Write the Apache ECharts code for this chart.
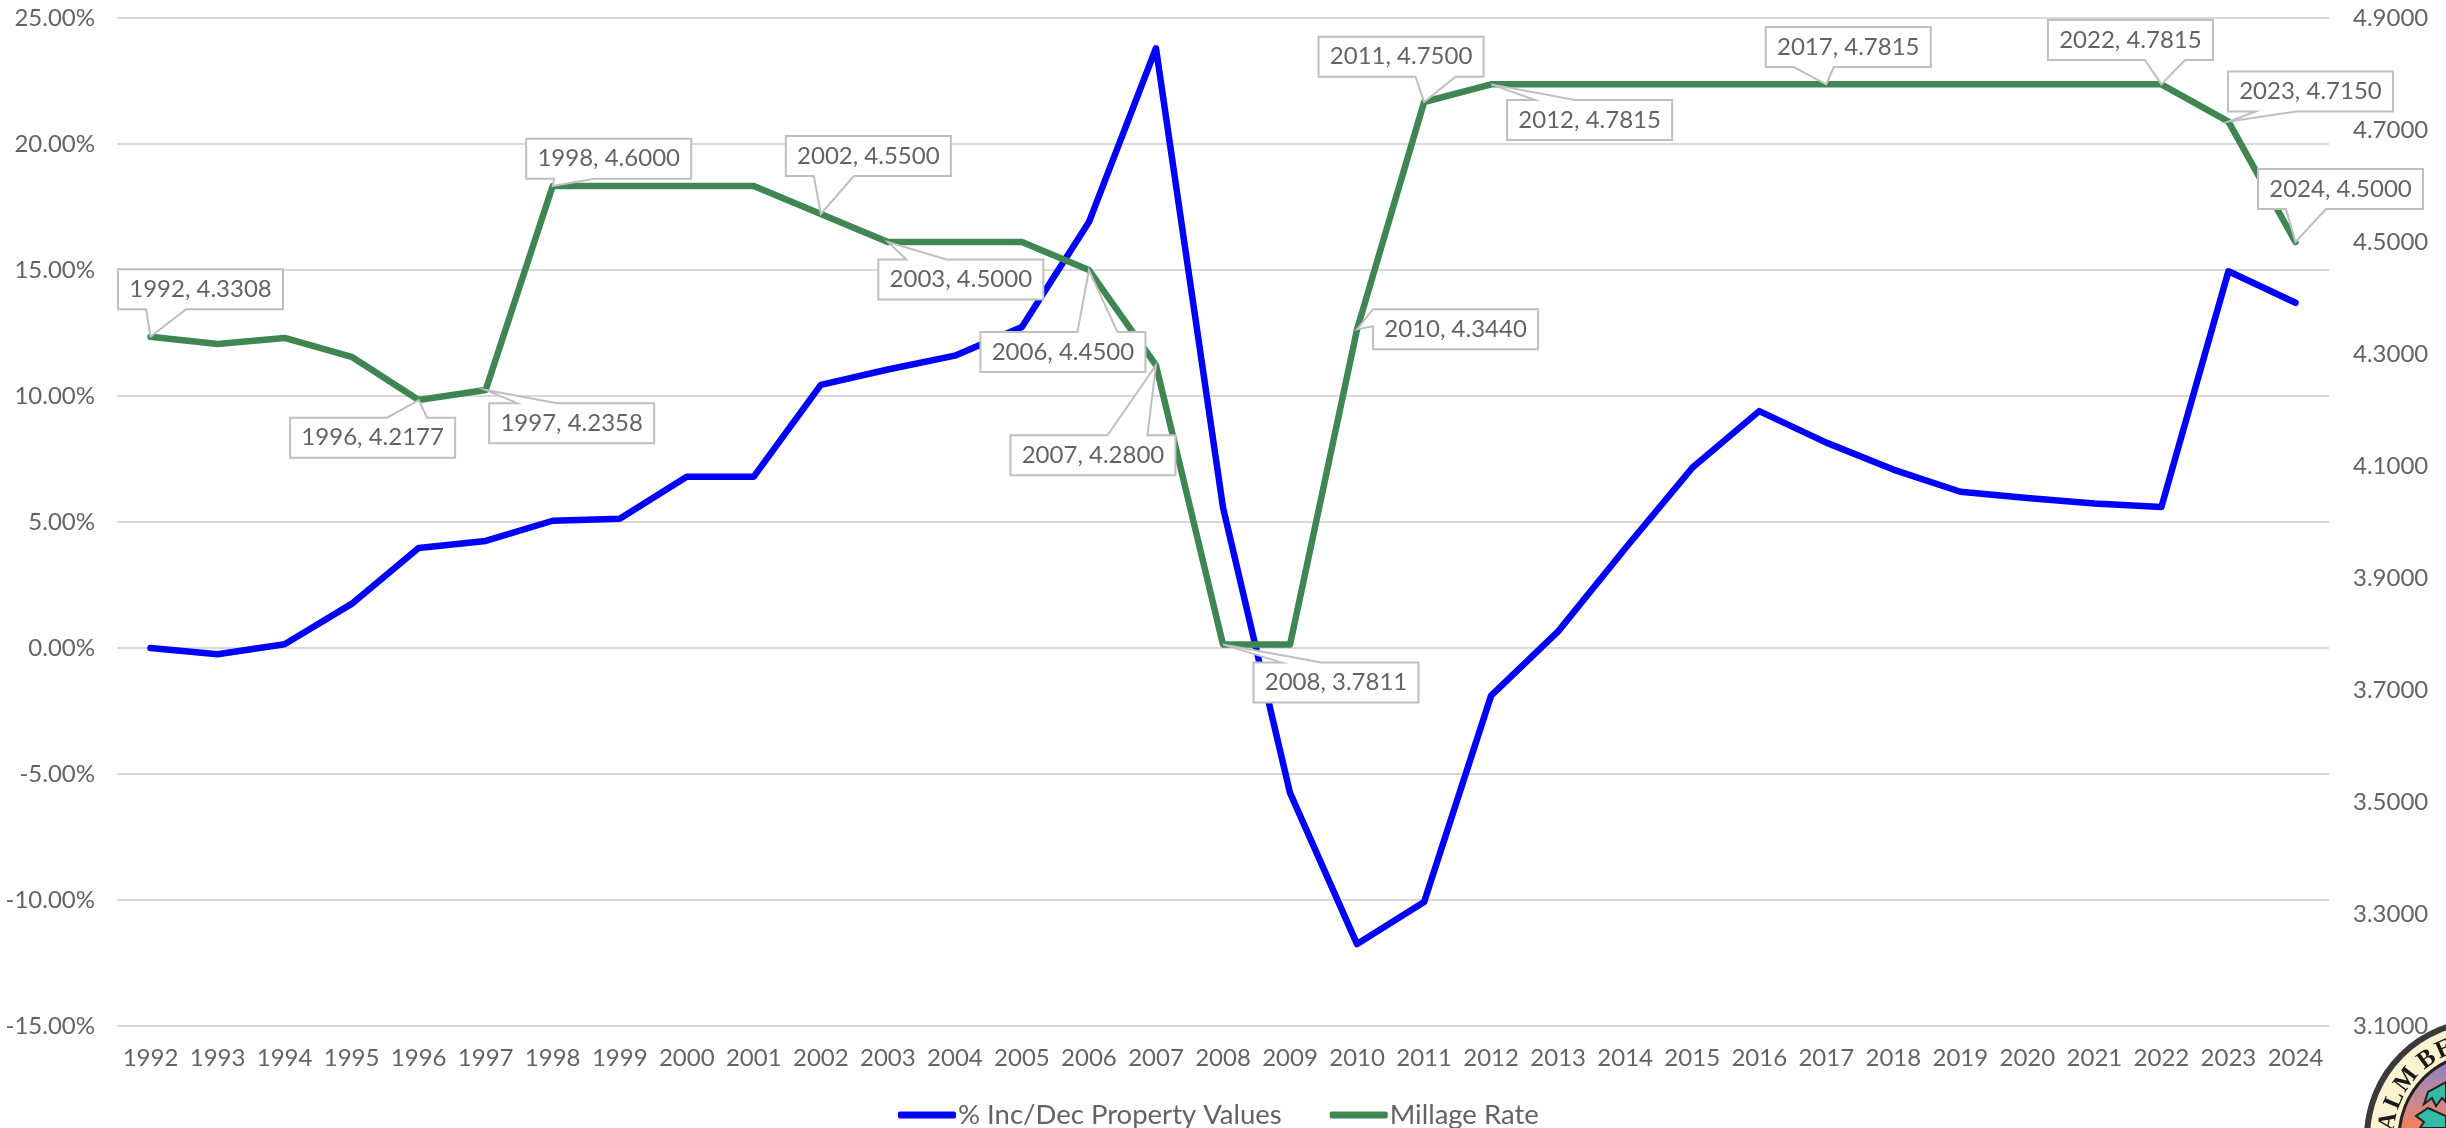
<!DOCTYPE html>
<html>
<head>
<meta charset="utf-8">
<style>
  html, body { margin: 0; padding: 0; background: #fff; }
  #chart { width: 2446px; height: 1128px; }
</style>
<script src="https://cdn.jsdelivr.net/npm/echarts@6/dist/echarts.min.js"></script>
</head>
<body>
<div id="chart"></div>
<script>
const years = ['1992','1993','1994','1995','1996','1997','1998','1999','2000','2001','2002',
  '2003','2004','2005','2006','2007','2008','2009','2010','2011','2012','2013','2014','2015',
  '2016','2017','2018','2019','2020','2021','2022','2023','2024'];

const propertyValues = [0, -0.25, 0.15, 1.75, 3.97, 4.25, 5.05, 5.13, 6.8, 6.8, 10.44,
  11.05, 11.6, 12.74, 16.9, 23.8, 5.58, -5.75, -11.75, -10.08, -1.89, 0.66, 3.95, 7.15,
  9.4, 8.15, 7.08, 6.2, 5.95, 5.73, 5.6, 14.95, 13.7];

const millageRate = [4.3308, 4.318, 4.3286, 4.295, 4.2177, 4.2358, 4.6, 4.6, 4.6, 4.6, 4.55,
  4.5, 4.5, 4.5, 4.45, 4.28, 3.7811, 3.7811, 4.344, 4.75, 4.7815, 4.7815, 4.7815, 4.7815,
  4.7815, 4.7815, 4.7815, 4.7815, 4.7815, 4.7815, 4.7815, 4.715, 4.5];

const calloutYears = ['1992','1996','1997','1998','2002','2003','2006','2007','2008','2010',
  '2011','2012','2017','2022','2023','2024'];

// box offset from the point: dx, dy, side the tail leaves from, where the tail sits on that side
const calloutBoxes = {
  '1992': [-32.5, -67.6, 'bottom', 28],
  '1996': [-128.5, 17.6, 'top', 97],
  '1997': [3.5, 13.2, 'top', 28],
  '1998': [-26.5, -47.3, 'bottom', 28],
  '2002': [-35, -77.9, 'bottom', 28],
  '2003': [-9.5, 17.5, 'top', 28],
  '2006': [-108.5, 62.1, 'top', 97],
  '2007': [-145.5, 70, 'top', 97],
  '2008': [30.5, 17.8, 'top', 28],
  '2010': [16, -20.2, 'left', 0],
  '2011': [-105.5, -65.3, 'bottom', 97],
  '2012': [16, 15.7, 'top', 28],
  '2017': [-60.5, -57.3, 'bottom', 28],
  '2022': [-113.5, -64.3, 'bottom', 97],
  '2023': [-0.5, -50.1, 'bottom', 28],
  '2024': [-37.5, -72.9, 'bottom', 28]
};

const FONT = 'Lato';
const TEXT = '#636363';
const BOX_W = 165, BOX_H = 40, TAIL_W = 40;

function calloutPath(x, y, c) {
  const w = BOX_W, h = BOX_H, t = TAIL_W, s = c[3];
  if (c[2] === 'bottom') {
    return [[x, y], [x + w, y], [x + w, y + h], [x + s + t, y + h], [0, 0], [x + s, y + h], [x, y + h]];
  }
  if (c[2] === 'top') {
    return [[x, y], [x + s, y], [0, 0], [x + s + t, y], [x + w, y], [x + w, y + h], [x, y + h]];
  }
  return [[x, y], [x + w, y], [x + w, y + h], [x, y + h], [x, y + 17], [0, 0]];
}

function renderCallout(params, api) {
  const year = api.value(0);
  const rate = api.value(1);
  const pt = api.coord([year, rate]);
  const c = calloutBoxes[years[year]];
  const pts = calloutPath(c[0], c[1], c);
  return {
    type: 'group',
    x: pt[0],
    y: pt[1],
    children: [
      {
        type: 'polygon',
        shape: { points: pts },
        style: { fill: '#fff', stroke: '#bfbfbf', lineWidth: 2 }
      },
      {
        type: 'text',
        style: {
          x: c[0] + BOX_W / 2,
          y: c[1] + BOX_H / 2,
          text: years[year] + ', ' + rate.toFixed(4),
          fill: TEXT,
          font: '24px ' + FONT,
          align: 'center',
          verticalAlign: 'middle'
        }
      }
    ]
  };
}

// town seal, only its top left part shows at the corner of the page
const sealX = 2484, sealY = 1138;

function sealLetters(r) {
  const letters = [['A', -80], ['L', -67], ['M', -53], ['B', -36], ['E', -24]];
  return letters.map(function (l) {
    const a = l[1] * Math.PI / 180;
    return {
      type: 'text',
      x: sealX + r * Math.sin(a),
      y: sealY - r * Math.cos(a),
      rotation: -a,
      style: {
        text: l[0],
        fill: '#1a1a1a',
        font: 'bold 25px "Liberation Serif"',
        align: 'center',
        verticalAlign: 'middle'
      },
      z: 20
    };
  });
}

function sealLeaf(points) {
  return {
    type: 'polygon',
    shape: { points: points },
    style: { fill: '#35b8a5', stroke: '#222', lineWidth: 2 },
    z: 15
  };
}

const chart = echarts.init(document.getElementById('chart'));
chart.setOption({
  animation: false,
  backgroundColor: '#fff',
  textStyle: { fontFamily: FONT },
  grid: { left: 117, right: 117, top: 18, bottom: 102 },
  legend: {
    top: 1096,
    left: 893,
    itemWidth: 58,
    itemHeight: 7,
    itemGap: 48,
    icon: 'roundRect',
    textStyle: { color: TEXT, fontSize: 27.5, fontFamily: FONT, padding: [0, 0, 0, -3] },
    data: ['% Inc/Dec Property Values', 'Millage Rate']
  },
  xAxis: {
    type: 'category',
    data: years,
    axisLine: { show: false },
    axisTick: { show: false },
    axisLabel: { color: TEXT, fontSize: 24, margin: 20, interval: 0 }
  },
  yAxis: [
    {
      type: 'value',
      min: -15,
      max: 25,
      interval: 5,
      axisLine: { show: false },
      axisTick: { show: false },
      splitLine: { lineStyle: { color: '#d9d9d9', width: 2 } },
      axisLabel: {
        color: TEXT, fontSize: 24, margin: 22,
        formatter: function (v) { return v.toFixed(2) + '%'; }
      }
    },
    {
      type: 'value',
      min: 3.1,
      max: 4.9,
      interval: 0.2,
      position: 'right',
      axisLine: { show: false },
      axisTick: { show: false },
      splitLine: { show: false },
      axisLabel: {
        color: TEXT, fontSize: 24, margin: 24,
        formatter: function (v) { return v.toFixed(4); }
      }
    }
  ],
  series: [
    {
      name: '% Inc/Dec Property Values',
      type: 'line',
      data: propertyValues,
      symbol: 'none',
      itemStyle: { color: '#0000ff' },
      lineStyle: { color: '#0000ff', width: 6.5, cap: 'round', join: 'round' },
      z: 3
    },
    {
      name: 'Millage Rate',
      type: 'line',
      yAxisIndex: 1,
      data: millageRate,
      symbol: 'none',
      itemStyle: { color: '#3f8752' },
      lineStyle: { color: '#3f8752', width: 6.5, cap: 'round', join: 'round' },
      z: 4
    },
    {
      type: 'custom',
      yAxisIndex: 1,
      renderItem: renderCallout,
      data: calloutYears.map(function (y) {
        const i = years.indexOf(y);
        return [i, millageRate[i]];
      }),
      encode: { x: 0, y: 1 },
      clip: false,
      silent: true,
      z: 5
    }
  ],
  graphic: [
    { type: 'circle', shape: { cx: sealX, cy: sealY, r: 120 }, style: { fill: '#3a3a3a' }, z: 10 },
    { type: 'circle', shape: { cx: sealX, cy: sealY, r: 114 }, style: { fill: '#fdf3d0' }, z: 11 },
    {
      type: 'circle',
      shape: { cx: sealX, cy: sealY, r: 85 },
      style: {
        fill: new echarts.graphic.LinearGradient(0, 0, 0, 1, [
          { offset: 0, color: '#7f7ccc' },
          { offset: 0.25, color: '#c08a9a' },
          { offset: 0.45, color: '#f57f58' }
        ]),
        stroke: '#222',
        lineWidth: 3
      },
      z: 12
    },
    sealLeaf([[2446, 1082], [2428, 1092], [2424, 1104], [2432, 1098], [2436, 1106], [2442, 1098], [2446, 1102]]),
    sealLeaf([[2446, 1116], [2428, 1108], [2416, 1116], [2424, 1122], [2420, 1128], [2446, 1128]])
  ].concat(sealLetters(97))
});
</script>
</body>
</html>
